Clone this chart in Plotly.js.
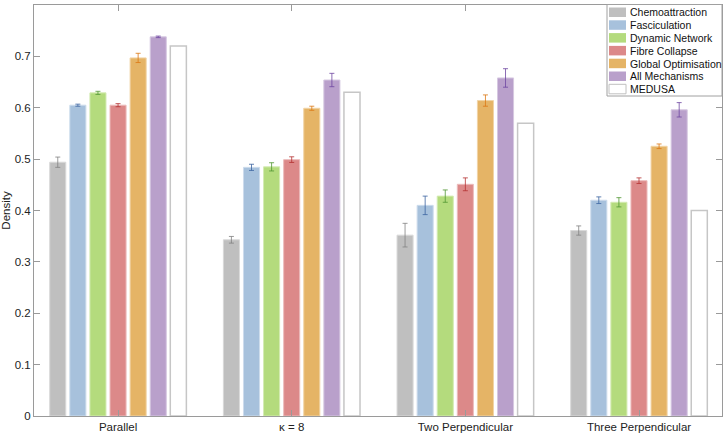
<!DOCTYPE html>
<html>
<head>
<meta charset="utf-8">
<script src="https://cdn.plot.ly/plotly-3.0.1.min.js"></script>
<style>html,body{margin:0;padding:0;background:#fff;}#chart{width:723px;height:435px;}</style>
</head>
<body>
<div id="chart"></div>
<script>
const categories = ['Parallel', '\u03ba = 8', 'Two Perpendicular', 'Three Perpendicular'];
const seriesNames = ['Chemoattraction', 'Fasciculation', 'Dynamic Network', 'Fibre Collapse', 'Global Optimisation', 'All Mechanisms', 'MEDUSA'];

const chemoattraction = [0.494, 0.343, 0.352, 0.361];
const chemoattractionErr = [0.010, 0.0065, 0.023, 0.009];
const fasciculation = [0.605, 0.484, 0.410, 0.420];
const fasciculationErr = [0.002, 0.006, 0.018, 0.0065];
const dynamicNetwork = [0.629, 0.485, 0.428, 0.416];
const dynamicNetworkErr = [0.003, 0.008, 0.012, 0.009];
const fibreCollapse = [0.605, 0.499, 0.451, 0.458];
const fibreCollapseErr = [0.003, 0.0055, 0.0125, 0.0055];
const globalOptimisation = [0.697, 0.599, 0.614, 0.525];
const globalOptimisationErr = [0.009, 0.004, 0.011, 0.0045];
const allMechanisms = [0.738, 0.654, 0.658, 0.596];
const allMechanismsErr = [0.0015, 0.013, 0.018, 0.014];
const medusa = [0.720, 0.630, 0.570, 0.400];

const yTicks = [0, 0.1, 0.2, 0.3, 0.4, 0.5, 0.6, 0.7, 0.8];

const values = [chemoattraction, fasciculation, dynamicNetwork, fibreCollapse, globalOptimisation, allMechanisms, medusa];
const errors = [chemoattractionErr, fasciculationErr, dynamicNetworkErr, fibreCollapseErr, globalOptimisationErr, allMechanismsErr, null];
const fills = ['#bfbfbf', '#a7c1dc', '#b4db7d', '#dc8989', '#e5b466', '#b9a0cb', '#ffffff'];
const edges = ['#d9d9d9', '#cddcec', '#d4ebb3', '#ecbcbc', '#f1d4a6', '#d6c8e1', '#c6c6c6'];
const errColors = ['rgba(130,130,130,0.8)', 'rgba(60,100,160,0.8)', 'rgba(80,150,50,0.8)', 'rgba(180,50,50,0.8)', 'rgba(220,120,20,0.8)', 'rgba(110,70,160,0.8)', '#999'];

const FONT = 'Liberation Sans, Arial, sans-serif';

const traces = seriesNames.map((name, i) => {
  const t = {
    type: 'bar',
    name: name,
    x: categories,
    y: values[i],
    marker: {color: fills[i], line: {color: edges[i], width: i === 6 ? 1.5 : 1}},
    showlegend: false,
    hoverinfo: 'y+name'
  };
  if (errors[i]) {
    t.error_y = {type: 'data', array: errors[i], visible: true, color: errColors[i], thickness: 1, width: 2.5};
  }
  return t;
});

// plot area geometry (pixels)
const W = 723, H = 435;
const M = {l: 34, r: 1, t: 5, b: 19};
const pw = W - M.l - M.r, ph = H - M.t - M.b;
const px = x => (x - M.l) / pw;
const py = y => (H - M.b - y) / ph;

const shapes = [];
const annotations = [];
// legend box
shapes.push({type: 'rect', xref: 'paper', yref: 'paper', x0: px(607), x1: px(722), y0: py(96), y1: py(4.5),
  line: {color: '#a0a0a0', width: 1}, fillcolor: '#ffffff', layer: 'above'});
seriesNames.forEach((name, i) => {
  const top = 7.5 + i * 12.8;
  shapes.push({type: 'rect', xref: 'paper', yref: 'paper', x0: px(609), x1: px(626), y0: py(top + 9.5), y1: py(top),
    line: {color: i === 6 ? '#c0c0c0' : fills[i], width: i === 6 ? 1 : 0}, fillcolor: fills[i], layer: 'above'});
  annotations.push({xref: 'paper', yref: 'paper', x: px(627.5), y: py(top + 4.8), xanchor: 'left', yanchor: 'middle',
    text: name, showarrow: false, font: {family: FONT, size: 10.5, color: '#111'}});
});

const layout = {
  width: W, height: H,
  margin: M,
  paper_bgcolor: '#fff', plot_bgcolor: '#fff',
  barmode: 'group',
  bargap: 0.19,
  bargroupgap: 0.2,
  showlegend: false,
  font: {family: FONT, size: 11.5, color: '#222'},
  xaxis: {
    type: 'category',
    range: [-0.484, 3.478],
    showline: true, linecolor: '#9a9a9a', linewidth: 1, mirror: 'ticks',
    ticks: 'inside', ticklen: 6, tickcolor: '#9a9a9a',
    showgrid: false, zeroline: false,
    tickfont: {family: FONT, size: 11.5, color: '#222'}
  },
  yaxis: {
    range: [0, 0.8],
    tickvals: yTicks,
    ticktext: yTicks.map(v => String(v)),
    showline: true, linecolor: '#9a9a9a', linewidth: 1, mirror: 'ticks',
    ticks: 'inside', ticklen: 6, tickcolor: '#9a9a9a',
    showgrid: false, zeroline: false,
    tickfont: {family: FONT, size: 11.5, color: '#222'},
    title: {text: 'Density', font: {family: FONT, size: 11.5, color: '#222'}, standoff: 3}
  },
  shapes: shapes,
  annotations: annotations
};

Plotly.newPlot('chart', traces, layout, {displayModeBar: false, staticPlot: true});
</script>
</body>
</html>
